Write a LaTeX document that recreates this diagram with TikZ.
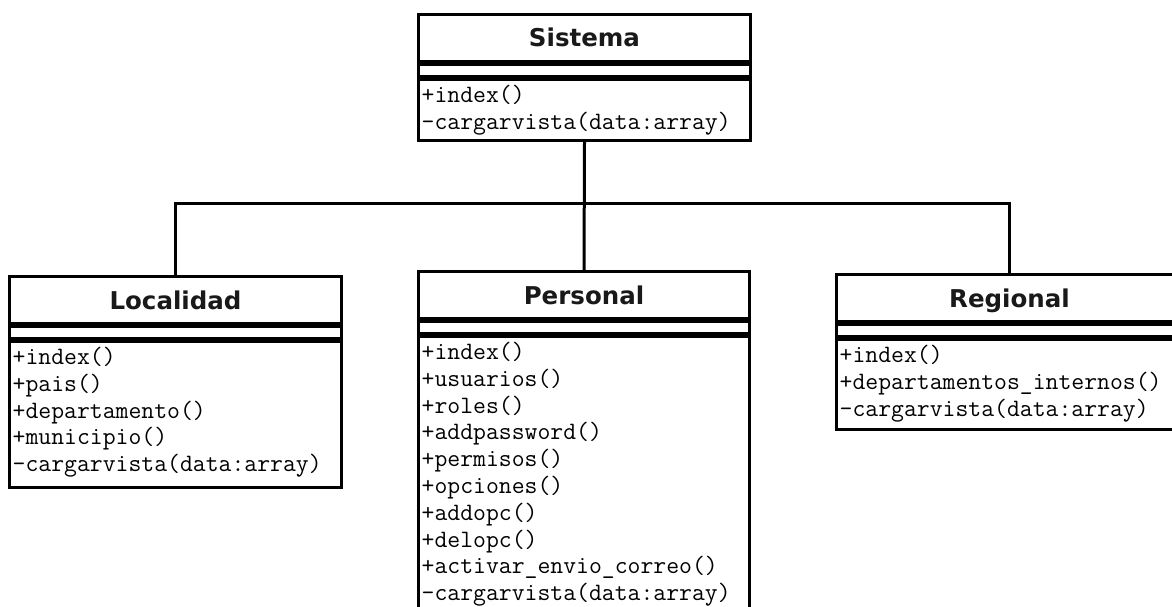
\documentclass[tikz,border=0pt]{standalone}
\usepackage{fontspec}
\newfontfamily\titlefont{DejaVu Sans}
\newcommand\umlclass[7]{% #1 id, #2 x, #3 top, #4 width, #5 title, #6 ops height, #7 ops
  \node[box, minimum width=#4pt, minimum height=47pt] (#1) at (#2,#3) {};
  \node[classtitle, anchor=base] (#1-t) at ([yshift=-9pt]#1.center) {#5};
  \node[box, minimum width=#4pt, minimum height=12pt] (#1-a) at (#1.south west) {};
  \node[box, minimum width=#4pt, minimum height=#6pt] (#1-o) at (#1-a.south west) {};
  \foreach \t [count=\i] in {#7}
    \node[op] (#1-\i) at ([xshift=4.5pt, yshift={-(24.5+26.8*(\i-1))*1pt}]#1-o.north west) {\t};
}
\begin{document}
\begin{tikzpicture}[x=1pt,y=-1pt,
  box/.style={draw=black, line width=3pt, inner sep=0pt, anchor=north west},
  classtitle/.style={inner sep=0pt, font=\titlefont\bfseries\fontsize{24.5}{29}\selectfont, text=black!90},
  op/.style={anchor=base west, inner sep=0pt, font=\ttfamily\fontsize{25}{27}\selectfont, text=black},
  link/.style={line width=3pt, line join=miter}]
\useasboundingbox (0,0) rectangle (1172,607);
\fill[white] (0,0) rectangle (1172,607);
\clip (0,0) rectangle (1172,607);

\umlclass{sis}{417}{13}{332}{Sistema}{61}{+index(),-cargarvista(data:array)}
\umlclass{loc}{8}{275}{332}{Localidad}{146}{+index(),+pais(),+departamento(),+municipio(),-cargarvista(data:array)}
\umlclass{per}{417}{270}{331}{Personal}{330}{+index(),+usuarios(),+roles(),+addpassword(),+permisos(),+opciones(),+addopc(),+delopc(),+activar\_envio\_correo(),-cargarvista(data:array)}
\umlclass{reg}{835}{273}{346}{Regional}{90}{+index(),+departamentos\_internos(),-cargarvista(data:array)}

\coordinate (j) at (sis-o.south |- 0,203);
\draw[link] (sis-o.south) -- (per.north);
\draw[link] (loc.north) -- (loc.north |- j) -- (reg.north |- j) -- (reg.north);
\end{tikzpicture}
\end{document}
